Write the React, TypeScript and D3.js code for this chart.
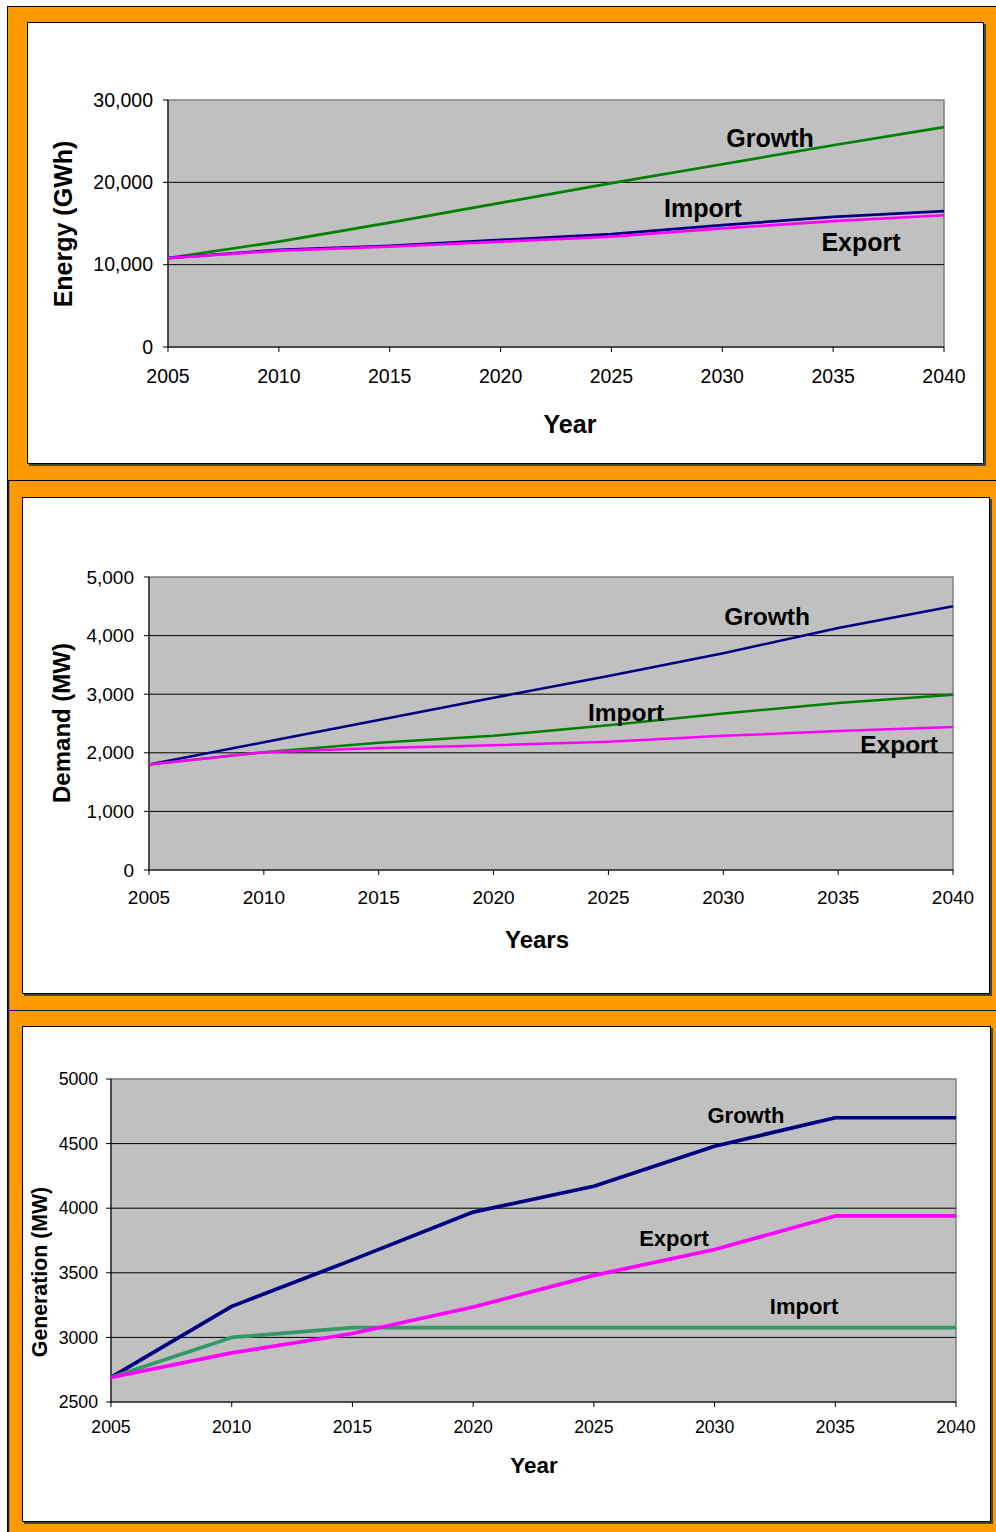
import React from "react";
import * as d3 from "d3";

const years = [2005, 2010, 2015, 2020, 2025, 2030, 2035, 2040];

// Chart 1: Energy (GWh)
const energyGrowth = [10800, 12800, 15100, 17500, 19900, 22200, 24500, 26700];
const energyImport = [10800, 11800, 12300, 13000, 13700, 14800, 15800, 16500];
const energyExport = [10800, 11700, 12200, 12800, 13400, 14400, 15300, 16000];
const energyTicks = [0, 10000, 20000, 30000];

// Chart 2: Demand (MW)
const demandGrowth = [1800, 2180, 2560, 2940, 3310, 3700, 4130, 4500];
const demandImport = [1800, 2010, 2170, 2290, 2470, 2670, 2850, 2990];
const demandExport = [1800, 2010, 2080, 2130, 2190, 2290, 2370, 2440];
const demandTicks = [0, 1000, 2000, 3000, 4000, 5000];

// Chart 3: Generation (MW)
const genGrowth = [2690, 3240, 3600, 3970, 4170, 4480, 4700, 4700];
const genImport = [2690, 3000, 3075, 3075, 3075, 3075, 3075, 3075];
const genExport = [2690, 2880, 3030, 3235, 3480, 3680, 3940, 3940];
const genTicks = [2500, 3000, 3500, 4000, 4500, 5000];

const FONT = "'Liberation Sans', Arial, sans-serif";

type Series = { values: number[]; color: string; width: number };
type Label = { text: string; x: number; y: number };

function Chart(props: {
  left: number; right: number; top: number; bottom: number;
  ticks: number[]; fmt: (v: number) => string;
  series: Series[]; labels: Label[]; labelSize: number;
  tickSize: number; xLabelDy: number; yLabelDx: number;
  xTitle: string; xTitleX: number; xTitleY: number; xTitleSize: number;
  yTitle: string; yTitleX: number; yTitleY: number; yTitleSize: number;
}) {
  const p = props;
  const x = d3.scaleLinear().domain([years[0], years[years.length - 1]]).range([p.left, p.right]);
  const y = d3.scaleLinear().domain([p.ticks[0], p.ticks[p.ticks.length - 1]]).range([p.bottom, p.top]);
  const line = d3.line<number>().x((_, i) => x(years[i])).y((d) => y(d));
  return (
    <g>
      <rect x={p.left} y={p.top} width={p.right - p.left} height={p.bottom - p.top} fill="#C0C0C0" stroke="#808080" strokeWidth={1.5} />
      {p.ticks.slice(1, -1).map((t) => (
        <line key={"g" + t} x1={p.left} x2={p.right} y1={y(t)} y2={y(t)} stroke="#000" strokeWidth={1} />
      ))}
      <line x1={p.left} x2={p.left} y1={p.top} y2={p.bottom} stroke="#000" strokeWidth={1} />
      <line x1={p.left} x2={p.right} y1={p.bottom} y2={p.bottom} stroke="#000" strokeWidth={1} />
      {p.ticks.map((t) => (
        <g key={"yt" + t}>
          <line x1={p.left - 5} x2={p.left} y1={y(t)} y2={y(t)} stroke="#000" />
          <text x={p.left - p.yLabelDx} y={y(t)} dy="0.35em" textAnchor="end" fontSize={p.tickSize} fontFamily={FONT} fill="#000">{p.fmt(t)}</text>
        </g>
      ))}
      {years.map((yr) => (
        <g key={"xt" + yr}>
          <line x1={x(yr)} x2={x(yr)} y1={p.bottom} y2={p.bottom + 5} stroke="#000" />
          <text x={x(yr)} y={p.bottom + p.xLabelDy} textAnchor="middle" fontSize={p.tickSize} fontFamily={FONT} fill="#000">{yr}</text>
        </g>
      ))}
      {p.series.map((s, i) => (
        <path key={"s" + i} d={line(s.values) || ""} fill="none" stroke={s.color} strokeWidth={s.width} strokeLinejoin="round" />
      ))}
      {p.labels.map((l) => (
        <text key={l.text} x={l.x} y={l.y} dy="0.35em" textAnchor="middle" fontSize={p.labelSize} fontWeight="bold" fontFamily={FONT} fill="#000">{l.text}</text>
      ))}
      <text x={p.xTitleX} y={p.xTitleY} dy="0.35em" textAnchor="middle" fontSize={p.xTitleSize} fontWeight="bold" fontFamily={FONT}>{p.xTitle}</text>
      <text transform={`translate(${p.yTitleX},${p.yTitleY}) rotate(-90)`} dy="0.35em" textAnchor="middle" fontSize={p.yTitleSize} fontWeight="bold" fontFamily={FONT}>{p.yTitle}</text>
    </g>
  );
}

const comma = d3.format(",");
const plain = (v: number) => String(v);

export default function App() {
  return (
    <svg width={996} height={1532} style={{ position: "absolute", left: 0, top: 0 }}>
      <rect x={0} y={0} width={996} height={1532} fill="#fff" />
      <rect x={7.5} y={6.5} width={995} height={1530} fill="#FF9900" stroke="#000" strokeWidth={1} />
      <line x1={8} x2={996} y1={480.5} y2={480.5} stroke="#000" strokeWidth={1} />
      <line x1={8} x2={996} y1={1010.5} y2={1010.5} stroke="#002060" strokeWidth={1} />
      <line x1={8.5} x2={8.5} y1={481} y2={1532} stroke="#002060" strokeWidth={1.5} />
      <rect x={29} y={24} width={957} height={442} fill="#444" />
      <rect x={27.5} y={22.5} width={956} height={441} fill="#fff" stroke="#000" strokeWidth={1} />
      <rect x={24} y={499} width={968} height={497} fill="#444" />
      <rect x={22.5} y={497.5} width={967} height={496} fill="#fff" stroke="#000" strokeWidth={1} />
      <rect x={24} y={1028} width={969} height={496} fill="#444" />
      <rect x={22.5} y={1026.5} width={968} height={495} fill="#fff" stroke="#000" strokeWidth={1} />

      <Chart
        left={168} right={944} top={100} bottom={347}
        ticks={energyTicks} fmt={comma}
        series={[
          { values: energyGrowth, color: "#008000", width: 2.7 },
          { values: energyImport, color: "#000080", width: 2.7 },
          { values: energyExport, color: "#FF00FF", width: 2.7 },
        ]}
        labels={[
          { text: "Growth", x: 770, y: 138 },
          { text: "Import", x: 703, y: 208 },
          { text: "Export", x: 861, y: 242 },
        ]}
        labelSize={25} tickSize={19.5} xLabelDy={36} yLabelDx={15}
        xTitle="Year" xTitleX={570} xTitleY={424} xTitleSize={25}
        yTitle="Energy (GWh)" yTitleX={63} yTitleY={224} yTitleSize={25}
      />
      <Chart
        left={149} right={953} top={577} bottom={870}
        ticks={demandTicks} fmt={comma}
        series={[
          { values: demandGrowth, color: "#000080", width: 2.5 },
          { values: demandImport, color: "#008000", width: 2.5 },
          { values: demandExport, color: "#FF00FF", width: 2.5 },
        ]}
        labels={[
          { text: "Growth", x: 767, y: 616 },
          { text: "Import", x: 626, y: 712 },
          { text: "Export", x: 899, y: 744 },
        ]}
        labelSize={24.5} tickSize={19} xLabelDy={34} yLabelDx={15}
        xTitle="Years" xTitleX={537} xTitleY={940} xTitleSize={24}
        yTitle="Demand (MW)" yTitleX={62} yTitleY={723} yTitleSize={24}
      />
      <Chart
        left={111} right={956} top={1079} bottom={1402}
        ticks={genTicks} fmt={plain}
        series={[
          { values: genGrowth, color: "#000080", width: 3.7 },
          { values: genImport, color: "#339966", width: 3.7 },
          { values: genExport, color: "#FF00FF", width: 3.7 },
        ]}
        labels={[
          { text: "Growth", x: 746, y: 1115 },
          { text: "Export", x: 674, y: 1238 },
          { text: "Import", x: 804, y: 1306 },
        ]}
        labelSize={22} tickSize={17.7} xLabelDy={31} yLabelDx={13}
        xTitle="Year" xTitleX={534} xTitleY={1465} xTitleSize={22.4}
        yTitle="Generation (MW)" yTitleX={40} yTitleY={1272} yTitleSize={21.3}
      />
    </svg>
  );
}
